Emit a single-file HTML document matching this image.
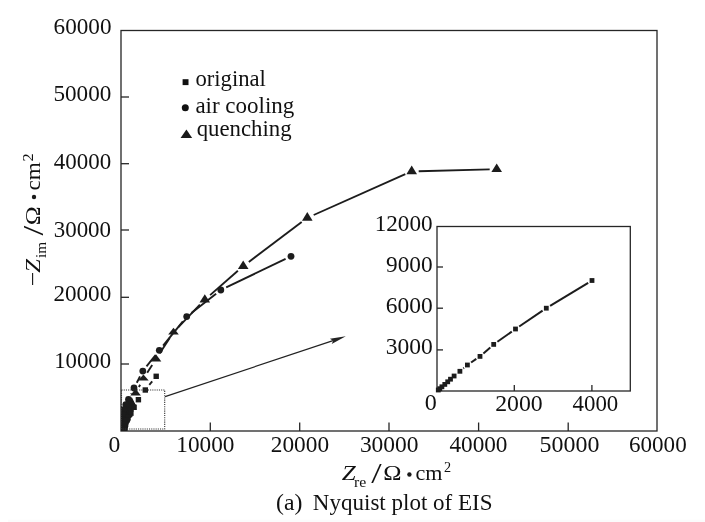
<!DOCTYPE html>
<html><head><meta charset="utf-8"><title>Nyquist plot of EIS</title>
<style>html,body{margin:0;padding:0;background:#fff;}svg{display:block;}
text{font-family:"Liberation Serif",serif;font-kerning:none;}</style></head>
<body>
<svg width="705" height="522" viewBox="0 0 705 522">
<rect width="705" height="522" fill="#fff"/>
<g stroke="#262626" stroke-width="1.3" fill="none">
<rect x="121" y="30.5" width="536" height="400.5"/>
<line x1="210.3" y1="431" x2="210.3" y2="422.5"/>
<line x1="299.7" y1="431" x2="299.7" y2="422.5"/>
<line x1="389.0" y1="431" x2="389.0" y2="422.5"/>
<line x1="478.6" y1="431" x2="478.6" y2="422.5"/>
<line x1="568.2" y1="431" x2="568.2" y2="422.5"/>
<line x1="121" y1="97.0" x2="129" y2="97.0"/>
<line x1="121" y1="163.7" x2="129" y2="163.7"/>
<line x1="121" y1="230.0" x2="129" y2="230.0"/>
<line x1="121" y1="297.3" x2="129" y2="297.3"/>
<line x1="121" y1="364.0" x2="129" y2="364.0"/>
</g>
<g font-family="Liberation Serif, serif">
<text x="53.61" y="34.20" font-size="23.5" textLength="57.88" lengthAdjust="spacingAndGlyphs" fill="#111" >60000</text>
<text x="53.46" y="101.20" font-size="23.5" textLength="57.82" lengthAdjust="spacingAndGlyphs" fill="#111" >50000</text>
<text x="53.85" y="169.30" font-size="23.5" textLength="57.32" lengthAdjust="spacingAndGlyphs" fill="#111" >40000</text>
<text x="53.70" y="236.60" font-size="23.5" textLength="57.37" lengthAdjust="spacingAndGlyphs" fill="#111" >30000</text>
<text x="53.49" y="301.40" font-size="23.5" textLength="57.69" lengthAdjust="spacingAndGlyphs" fill="#111" >20000</text>
<text x="54.20" y="368.00" font-size="23.5" textLength="56.87" lengthAdjust="spacingAndGlyphs" fill="#111" >10000</text>
<text x="108.60" y="452.30" font-size="23.5" textLength="11.80" lengthAdjust="spacingAndGlyphs" fill="#111" >0</text>
<text x="176.36" y="452.30" font-size="23.5" textLength="58.13" lengthAdjust="spacingAndGlyphs" fill="#111" >10000</text>
<text x="270.77" y="452.30" font-size="23.5" textLength="58.31" lengthAdjust="spacingAndGlyphs" fill="#111" >20000</text>
<text x="359.88" y="452.30" font-size="23.5" textLength="58.72" lengthAdjust="spacingAndGlyphs" fill="#111" >30000</text>
<text x="449.45" y="452.30" font-size="23.5" textLength="58.04" lengthAdjust="spacingAndGlyphs" fill="#111" >40000</text>
<text x="539.61" y="452.30" font-size="23.5" textLength="59.80" lengthAdjust="spacingAndGlyphs" fill="#111" >50000</text>
<text x="629.01" y="452.30" font-size="23.5" textLength="57.67" lengthAdjust="spacingAndGlyphs" fill="#111" >60000</text>
<rect x="182.6" y="79.2" width="5.9" height="5.9" fill="#111"/>
<circle cx="185.3" cy="107.8" r="3.5" fill="#111"/>
<polygon points="186.4,129.4 180.6,138 192.2,138" fill="#1a1a1a"/>
<text x="195.44" y="85.80" font-size="23.5" textLength="70.42" lengthAdjust="spacingAndGlyphs" fill="#111" >original</text>
<text x="195.39" y="112.80" font-size="23.5" textLength="98.95" lengthAdjust="spacingAndGlyphs" fill="#111" >air cooling</text>
<text x="196.68" y="136.20" font-size="23.5" textLength="94.96" lengthAdjust="spacingAndGlyphs" fill="#111" >quenching</text>
</g>
<defs><clipPath id="pa"><rect x="121" y="30" width="536" height="401"/></clipPath></defs>
<g clip-path="url(#pa)">
<line x1="489.7" y1="169.4" x2="418.7" y2="171.2" stroke="#1c1c1c" stroke-width="1.9"/>
<line x1="405.3" y1="174.2" x2="313.7" y2="215.0" stroke="#1c1c1c" stroke-width="1.9"/>
<line x1="301.7" y1="222.1" x2="248.8" y2="261.9" stroke="#1c1c1c" stroke-width="1.9"/>
<line x1="237.9" y1="270.7" x2="210.1" y2="295.1" stroke="#1c1c1c" stroke-width="1.9"/>
<line x1="199.9" y1="304.7" x2="178.4" y2="327.2" stroke="#1c1c1c" stroke-width="1.9"/>
<line x1="169.7" y1="338.1" x2="159.8" y2="353.2" stroke="#1c1c1c" stroke-width="1.9"/>
<line x1="152.2" y1="364.9" x2="147.2" y2="372.7" stroke="#1c1c1c" stroke-width="1.9"/>
<line x1="140.1" y1="384.7" x2="138.9" y2="387.0" stroke="#1c1c1c" stroke-width="1.9"/>
<line x1="285.6" y1="258.9" x2="226.2" y2="287.4" stroke="#1c1c1c" stroke-width="1.9"/>
<line x1="216.1" y1="293.7" x2="191.4" y2="312.9" stroke="#1c1c1c" stroke-width="1.9"/>
<line x1="182.9" y1="321.3" x2="163.1" y2="345.6" stroke="#1c1c1c" stroke-width="1.9"/>
<line x1="155.6" y1="355.0" x2="146.5" y2="366.4" stroke="#1c1c1c" stroke-width="1.9"/>
<line x1="140.0" y1="376.4" x2="136.8" y2="382.7" stroke="#1c1c1c" stroke-width="1.9"/>
<line x1="131.4" y1="393.4" x2="131.1" y2="394.0" stroke="#1c1c1c" stroke-width="1.9"/>
<line x1="152.2" y1="381.4" x2="149.3" y2="384.9" stroke="#1c1c1c" stroke-width="1.9"/>
<polygon points="129,399 132,397.5 135.7,405 134.2,408 133.6,411 131.8,414.8 132.6,416.7 129.8,418.6 130.6,420.5 128.8,423.4 128.4,425.3 127.9,428.2 127.6,431 121,431 121,414 124,407" fill="#1c1c1c"/>
<polygon points="496.7,163.5 491.4,172.0 502.0,172.0" fill="#1c1c1c"/>
<polygon points="411.7,165.6 406.4,174.3 417.0,174.3" fill="#1c1c1c"/>
<polygon points="307.3,212.0 302.0,220.8 312.6,220.8" fill="#1c1c1c"/>
<polygon points="243.2,260.4 237.9,269.0 248.5,269.0" fill="#1c1c1c"/>
<polygon points="204.8,294.3 199.5,302.4 210.1,302.4" fill="#1c1c1c"/>
<polygon points="173.5,327.8 168.2,334.5 178.8,334.5" fill="#1c1c1c"/>
<polygon points="156.0,354.3 150.7,361.4 161.3,361.4" fill="#1c1c1c"/>
<polygon points="143.4,374.4 138.1,380.6 148.7,380.6" fill="#1c1c1c"/>
<polygon points="135.6,388.8 130.3,395.4 140.9,395.4" fill="#1c1c1c"/>
<polygon points="131.0,399.0 125.7,405.5 136.3,405.5" fill="#1c1c1c"/>
<polygon points="128.0,405.5 122.7,412.0 133.3,412.0" fill="#1c1c1c"/>
<polygon points="126.0,411.0 120.7,417.5 131.3,417.5" fill="#1c1c1c"/>
<polygon points="124.5,416.0 119.2,422.5 129.8,422.5" fill="#1c1c1c"/>
<polygon points="123.2,420.5 117.9,427.0 128.5,427.0" fill="#1c1c1c"/>
<polygon points="122.3,424.0 117.0,430.0 127.6,430.0" fill="#1c1c1c"/>
<circle cx="291.0" cy="256.3" r="3.4" fill="#1c1c1c"/>
<circle cx="220.8" cy="290.0" r="3.4" fill="#1c1c1c"/>
<circle cx="186.7" cy="316.6" r="3.4" fill="#1c1c1c"/>
<circle cx="159.3" cy="350.3" r="3.4" fill="#1c1c1c"/>
<circle cx="142.8" cy="371.1" r="3.4" fill="#1c1c1c"/>
<circle cx="134.0" cy="388.0" r="3.4" fill="#1c1c1c"/>
<circle cx="128.5" cy="399.4" r="3.4" fill="#1c1c1c"/>
<circle cx="125.8" cy="404.6" r="3.4" fill="#1c1c1c"/>
<circle cx="123.8" cy="409.6" r="3.4" fill="#1c1c1c"/>
<circle cx="122.8" cy="414.5" r="3.4" fill="#1c1c1c"/>
<circle cx="122.3" cy="419.5" r="3.4" fill="#1c1c1c"/>
<circle cx="122.0" cy="424.0" r="3.4" fill="#1c1c1c"/>
<circle cx="121.8" cy="428.0" r="3.4" fill="#1c1c1c"/>
<rect x="153.5" y="373.6" width="5.4" height="5.4" fill="#1c1c1c"/>
<rect x="142.6" y="387.3" width="5.4" height="5.4" fill="#1c1c1c"/>
<rect x="135.7" y="397.0" width="5.4" height="5.4" fill="#1c1c1c"/>
<rect x="131.4" y="404.6" width="5.4" height="5.4" fill="#1c1c1c"/>
<rect x="128.2" y="410.5" width="5.4" height="5.4" fill="#1c1c1c"/>
<rect x="125.3" y="414.7" width="5.4" height="5.4" fill="#1c1c1c"/>
<rect x="123.6" y="417.7" width="5.4" height="5.4" fill="#1c1c1c"/>
<rect x="122.3" y="420.0" width="5.4" height="5.4" fill="#1c1c1c"/>
<rect x="121.4" y="421.7" width="5.4" height="5.4" fill="#1c1c1c"/>
<rect x="120.7" y="423.3" width="5.4" height="5.4" fill="#1c1c1c"/>
<rect x="120.1" y="424.7" width="5.4" height="5.4" fill="#1c1c1c"/>
<rect x="119.5" y="425.9" width="5.4" height="5.4" fill="#1c1c1c"/>
<rect x="119.1" y="426.7" width="5.4" height="5.4" fill="#1c1c1c"/>
</g>
<rect x="121.5" y="390" width="43.2" height="39" fill="none" stroke="#333" stroke-width="1.1" stroke-dasharray="1.1 1.1"/>
<line x1="165.1" y1="396.6" x2="333" y2="340.6" stroke="#222" stroke-width="1.2"/>
<polygon points="345.8,336.3 329.9,338.7 333.2,340.8 331.7,344.1" fill="#222"/>
<g stroke="#262626" stroke-width="1.3" fill="none">
<rect x="437" y="226.5" width="193.3" height="164.5"/>
<line x1="514.3" y1="391" x2="514.3" y2="385"/>
<line x1="591.9" y1="391" x2="591.9" y2="385"/>
<line x1="437" y1="267.0" x2="443" y2="267.0"/>
<line x1="437" y1="308.2" x2="443" y2="308.2"/>
<line x1="437" y1="349.9" x2="443" y2="349.9"/>
</g>
<line x1="588.2" y1="282.8" x2="550.1" y2="305.9" stroke="#1c1c1c" stroke-width="2.0"/>
<line x1="542.6" y1="310.7" x2="519.2" y2="326.5" stroke="#1c1c1c" stroke-width="2.0"/>
<line x1="511.8" y1="331.6" x2="497.4" y2="341.8" stroke="#1c1c1c" stroke-width="2.0"/>
<line x1="490.3" y1="347.4" x2="483.4" y2="353.4" stroke="#1c1c1c" stroke-width="2.0"/>
<line x1="476.3" y1="358.9" x2="471.1" y2="362.5" stroke="#1c1c1c" stroke-width="2.0"/>
<line x1="464.0" y1="367.9" x2="463.3" y2="368.4" stroke="#1c1c1c" stroke-width="2.0"/>
<rect x="589.6" y="278.1" width="4.8" height="4.8" fill="#1c1c1c"/>
<rect x="543.9" y="305.8" width="4.8" height="4.8" fill="#1c1c1c"/>
<rect x="513.1" y="326.6" width="4.8" height="4.8" fill="#1c1c1c"/>
<rect x="491.3" y="342.0" width="4.8" height="4.8" fill="#1c1c1c"/>
<rect x="477.6" y="354.0" width="4.8" height="4.8" fill="#1c1c1c"/>
<rect x="465.0" y="362.6" width="4.8" height="4.8" fill="#1c1c1c"/>
<rect x="457.5" y="368.9" width="4.8" height="4.8" fill="#1c1c1c"/>
<rect x="451.7" y="373.6" width="4.8" height="4.8" fill="#1c1c1c"/>
<rect x="448.1" y="376.8" width="4.8" height="4.8" fill="#1c1c1c"/>
<rect x="445.3" y="379.4" width="4.8" height="4.8" fill="#1c1c1c"/>
<rect x="442.4" y="382.0" width="4.8" height="4.8" fill="#1c1c1c"/>
<rect x="439.5" y="384.4" width="4.8" height="4.8" fill="#1c1c1c"/>
<rect x="437.4" y="386.3" width="4.8" height="4.8" fill="#1c1c1c"/>
<rect x="435.9" y="387.6" width="4.8" height="4.8" fill="#1c1c1c"/>
<g font-family="Liberation Serif, serif">
<text x="374.66" y="231.00" font-size="23.5" textLength="57.92" lengthAdjust="spacingAndGlyphs" fill="#111" >12000</text>
<text x="386.05" y="272.20" font-size="23.5" textLength="46.64" lengthAdjust="spacingAndGlyphs" fill="#111" >9000</text>
<text x="385.79" y="312.80" font-size="23.5" textLength="46.90" lengthAdjust="spacingAndGlyphs" fill="#111" >6000</text>
<text x="385.68" y="354.20" font-size="23.5" textLength="47.02" lengthAdjust="spacingAndGlyphs" fill="#111" >3000</text>
<text x="424.78" y="410.40" font-size="23.5" textLength="12.03" lengthAdjust="spacingAndGlyphs" fill="#111" >0</text>
<text x="495.16" y="410.70" font-size="23.5" textLength="47.55" lengthAdjust="spacingAndGlyphs" fill="#111" >2000</text>
<text x="572.55" y="410.60" font-size="23.5" textLength="45.72" lengthAdjust="spacingAndGlyphs" fill="#111" >4000</text>
</g>
<g font-family="Liberation Serif, serif" fill="#1a1a1a">
<text x="341.69" y="479.90" font-size="22" font-style="italic" textLength="14.00" lengthAdjust="spacingAndGlyphs" fill="#111" >Z</text>
<text x="354.08" y="486.60" font-size="15" textLength="12.26" lengthAdjust="spacingAndGlyphs" fill="#111" >re</text>
<text x="371.30" y="482.60" font-size="30" textLength="10.40" lengthAdjust="spacingAndGlyphs" fill="#111" >/</text>
<text x="383.23" y="479.90" font-size="22" textLength="18.24" lengthAdjust="spacingAndGlyphs" fill="#111" >Ω</text>
<circle cx="409.4" cy="474.5" r="2.2" fill="#1a1a1a"/>
<text x="415.46" y="479.60" font-size="22" textLength="26.99" lengthAdjust="spacingAndGlyphs" fill="#111" >cm</text>
<text x="443.88" y="472.30" font-size="15" textLength="7.11" lengthAdjust="spacingAndGlyphs" fill="#111" >2</text>
<g transform="translate(39.7,290) rotate(-90)">
<text x="3.80" y="0.00" font-size="22" textLength="14.66" lengthAdjust="spacingAndGlyphs" fill="#111" >−</text>
<text x="17.30" y="0.00" font-size="22" font-style="italic" textLength="13.70" lengthAdjust="spacingAndGlyphs" fill="#111" >Z</text>
<text x="32.08" y="6.10" font-size="15" textLength="16.06" lengthAdjust="spacingAndGlyphs" fill="#111" >im</text>
<text x="54.50" y="3.00" font-size="30" textLength="9.80" lengthAdjust="spacingAndGlyphs" fill="#111" >/</text>
<text x="64.88" y="0.00" font-size="22" textLength="18.94" lengthAdjust="spacingAndGlyphs" fill="#111" >Ω</text>
<circle cx="93.0" cy="-5.7" r="2.2" fill="#1a1a1a"/>
<text x="99.41" y="0.00" font-size="22" textLength="28.45" lengthAdjust="spacingAndGlyphs" fill="#111" >cm</text>
<text x="128.48" y="-6.90" font-size="15" textLength="8.23" lengthAdjust="spacingAndGlyphs" fill="#111" >2</text>
</g>
<text x="276.06" y="510.20" font-size="23.5" textLength="26.39" lengthAdjust="spacingAndGlyphs" fill="#111" >(a)</text>
<text x="312.84" y="510.20" font-size="23.5" textLength="179.69" lengthAdjust="spacingAndGlyphs" fill="#111" >Nyquist plot of EIS</text>
</g>
<rect x="8" y="519.8" width="697" height="2.2" fill="#fbfbfb"/>
</svg>
</body></html>
